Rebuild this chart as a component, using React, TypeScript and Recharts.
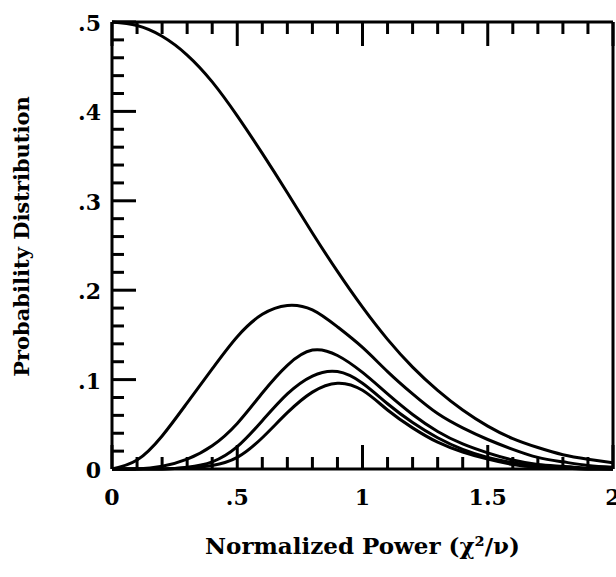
import React from 'react';
import { LineChart, Line, XAxis, YAxis } from 'recharts';

// normalized power (x) sampled every 0.1
const xValues = [0, 0.1, 0.2, 0.3, 0.4, 0.5, 0.6, 0.7, 0.8, 0.9, 1.0, 1.1, 1.2, 1.3, 1.4, 1.5, 1.6, 1.7, 1.8, 1.9, 2.0];

// probability distribution curves
const curveA = [0.500, 0.496, 0.484, 0.463, 0.433, 0.395, 0.353, 0.309, 0.264, 0.221, 0.181, 0.145, 0.114, 0.088, 0.066, 0.048, 0.034, 0.024, 0.016, 0.011, 0.007];
const curveB = [0, 0.010, 0.037, 0.074, 0.112, 0.148, 0.173, 0.183, 0.178, 0.159, 0.136, 0.109, 0.084, 0.062, 0.046, 0.033, 0.022, 0.013, 0.008, 0.004, 0.002];
const curveC = [0, 0, 0.003, 0.011, 0.026, 0.051, 0.085, 0.116, 0.133, 0.127, 0.108, 0.084, 0.061, 0.042, 0.028, 0.018, 0.010, 0.005, 0.003, 0.001, 0];
const curveD = [0, 0, 0, 0.002, 0.008, 0.025, 0.054, 0.084, 0.104, 0.109, 0.096, 0.073, 0.052, 0.035, 0.022, 0.013, 0.007, 0.003, 0.001, 0, 0];
const curveE = [0, 0, 0, 0.001, 0.004, 0.013, 0.035, 0.063, 0.086, 0.096, 0.088, 0.066, 0.046, 0.030, 0.019, 0.011, 0.005, 0.002, 0.001, 0, 0];

// axis ticks: minor every 0.1 (x) / 0.02 (y), labels on the major ones
const xTicks = [0, 0.1, 0.2, 0.3, 0.4, 0.5, 0.6, 0.7, 0.8, 0.9, 1.0, 1.1, 1.2, 1.3, 1.4, 1.5, 1.6, 1.7, 1.8, 1.9, 2.0];
const xMajor = [0, 0.5, 1, 1.5, 2];
const xLabels = ['0', '.5', '1', '1.5', '2'];
const yTicks = [0, 0.02, 0.04, 0.06, 0.08, 0.1, 0.12, 0.14, 0.16, 0.18, 0.2, 0.22, 0.24, 0.26, 0.28, 0.3, 0.32, 0.34, 0.36, 0.38, 0.4, 0.42, 0.44, 0.46, 0.48, 0.5];
const yMajor = [0, 0.1, 0.2, 0.3, 0.4, 0.5];
const yLabels = ['0', '.1', '.2', '.3', '.4', '.5'];

const data = xValues.map((x, i) => ({
  x,
  a: curveA[i],
  b: curveB[i],
  c: curveC[i],
  d: curveD[i],
  e: curveE[i],
}));

const FONT = '"DejaVu Serif", serif';
const MAJOR = 24;
const MINOR = 12;

const majorIndex = (list: number[], v: number) => list.findIndex((m) => Math.abs(m - v) < 1e-6);

const BottomTick = (props: any) => {
  const { x, y, payload } = props;
  const idx = majorIndex(xMajor, payload.value);
  const len = idx >= 0 ? MAJOR : MINOR;
  return (
    <g>
      <line x1={x} x2={x} y1={y} y2={y - len} stroke="#000" strokeWidth={3} />
      {idx >= 0 && (
        <text x={x} y={y + 36} textAnchor="middle" fontFamily={FONT} fontWeight="bold" fontSize={22} fill="#000">
          {xLabels[idx]}
        </text>
      )}
    </g>
  );
};

const TopTick = (props: any) => {
  const { x, y, payload } = props;
  const len = majorIndex(xMajor, payload.value) >= 0 ? MAJOR : MINOR;
  return <line x1={x} x2={x} y1={y} y2={y + len} stroke="#000" strokeWidth={3} />;
};

const LeftTick = (props: any) => {
  const { x, y, payload } = props;
  const idx = majorIndex(yMajor, payload.value);
  const len = idx >= 0 ? MAJOR : MINOR;
  return (
    <g>
      <line x1={x} x2={x + len} y1={y} y2={y} stroke="#000" strokeWidth={3} />
      {idx >= 0 && (
        <text x={x - 11} y={y + 9} textAnchor="end" fontFamily={FONT} fontWeight="bold" fontSize={22} fill="#000">
          {yLabels[idx]}
        </text>
      )}
    </g>
  );
};

const RightTick = (props: any) => {
  const { x, y, payload } = props;
  const len = majorIndex(yMajor, payload.value) >= 0 ? MAJOR : MINOR;
  return <line x1={x} x2={x - len} y1={y} y2={y} stroke="#000" strokeWidth={3} />;
};

const YTitle = (props: any) => {
  const vb = props.viewBox;
  const cx = 21;
  const cy = vb.y + vb.height / 2 - 9;
  return (
    <text
      x={cx}
      y={cy}
      transform={`rotate(-90 ${cx} ${cy})`}
      textAnchor="middle"
      dominantBaseline="central"
      fontFamily={FONT}
      fontWeight="bold"
      fontSize={21}
      fill="#000"
    >
      Probability Distribution
    </text>
  );
};

const XTitle = (props: any) => {
  const vb = props.viewBox;
  return (
    <text
      x={vb.x + vb.width / 2}
      y={vb.y + vb.height - 23}
      textAnchor="middle"
      fontFamily={FONT}
      fontWeight="bold"
      fontSize={23}
      fill="#000"
    >
      Normalized Power (χ²/ν)
    </text>
  );
};

const axisLine = { stroke: '#000', strokeWidth: 3 };
const series = ['a', 'b', 'c', 'd', 'e'];

export default function App() {
  return (
    <div style={{ position: 'absolute', left: 0, top: 0, background: '#fff' }}>
      <LineChart width={616} height={577} data={data} margin={{ top: 0, right: 0, bottom: 0, left: 0 }}>
        <XAxis
          dataKey="x"
          type="number"
          domain={[0, 2]}
          ticks={xTicks}
          interval={0}
          height={108}
          tickSize={0}
          tickMargin={0}
          tickLine={false}
          axisLine={axisLine}
          tick={<BottomTick />}
          label={{ content: <XTitle /> }}
        />
        <XAxis
          xAxisId="top"
          orientation="top"
          dataKey="x"
          type="number"
          domain={[0, 2]}
          ticks={xTicks}
          interval={0}
          height={22}
          tickSize={0}
          tickMargin={0}
          tickLine={false}
          axisLine={axisLine}
          tick={<TopTick />}
        />
        <YAxis
          type="number"
          domain={[0, 0.5]}
          ticks={yTicks}
          interval={0}
          width={112}
          tickSize={0}
          tickMargin={0}
          tickLine={false}
          axisLine={axisLine}
          tick={<LeftTick />}
          label={{ content: <YTitle /> }}
        />
        <YAxis
          yAxisId="right"
          orientation="right"
          type="number"
          domain={[0, 0.5]}
          ticks={yTicks}
          interval={0}
          width={3}
          tickSize={0}
          tickMargin={0}
          tickLine={false}
          axisLine={axisLine}
          tick={<RightTick />}
        />
        {series.map((key) => (
          <Line
            key={key}
            dataKey={key}
            type="natural"
            stroke="#000"
            strokeWidth={3}
            dot={false}
            isAnimationActive={false}
          />
        ))}
      </LineChart>
    </div>
  );
}
